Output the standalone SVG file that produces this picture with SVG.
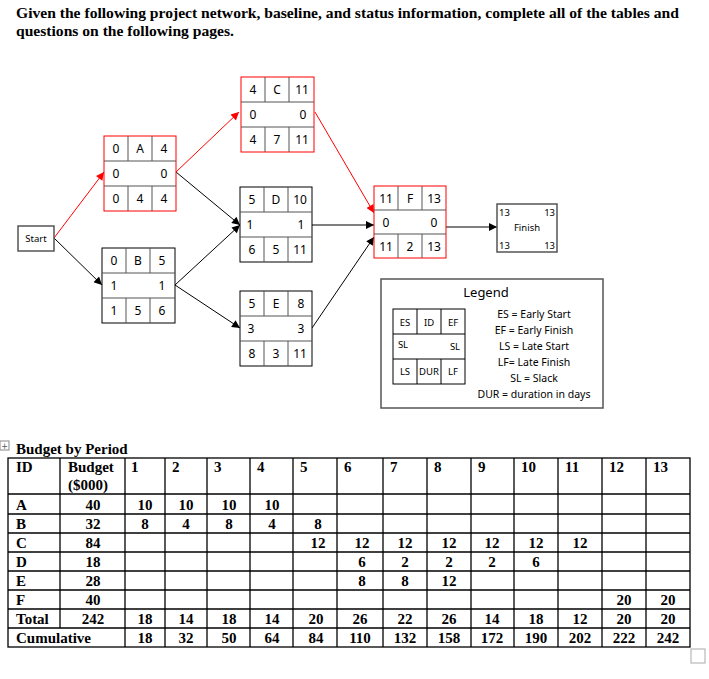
<svg xmlns="http://www.w3.org/2000/svg" width="709" height="679" viewBox="0 0 709 679">
<defs>
<marker id="ab" viewBox="0 0 10 10" refX="10" refY="5" markerWidth="10" markerHeight="8" orient="auto" markerUnits="userSpaceOnUse"><path d="M0,0L10,5L0,10z" fill="#000"/></marker>
<marker id="ar" viewBox="0 0 10 10" refX="10" refY="5" markerWidth="10" markerHeight="8" orient="auto" markerUnits="userSpaceOnUse"><path d="M0,0L10,5L0,10z" fill="#f00"/></marker>
</defs>
<style>
.t{font-family:"Liberation Serif",serif;font-weight:bold;font-size:15.6px}
.n{font-family:"Noto Sans","DejaVu Sans",sans-serif;font-size:12px;text-anchor:middle}
.s{font-family:"Noto Sans","DejaVu Sans",sans-serif;font-size:9.5px}
.l{font-family:"Noto Sans","DejaVu Sans",sans-serif;font-size:10.5px}
.g{fill:#fff;stroke:#000;stroke-width:1}
.r{fill:#fff;stroke:#f00;stroke-width:1}
.ln{stroke:#555;stroke-width:1}
.tb{font-family:"Liberation Serif",serif;font-weight:bold;font-size:15px}
.c{text-anchor:middle}
</style>
<rect width="709" height="679" fill="#fff"/>
<text class="t" x="16" y="18">Given the following project network, baseline, and status information, complete all of the tables and</text>
<text class="t" x="16" y="36">questions on the following pages.</text>

<g id="connectors" fill="none">
<line x1="54" y1="238" x2="104" y2="172" stroke="#f00" marker-end="url(#ar)"/>
<line x1="54" y1="238" x2="102" y2="285" stroke="#000" marker-end="url(#ab)"/>
<line x1="176" y1="172" x2="239" y2="112" stroke="#f00" marker-end="url(#ar)"/>
<line x1="176" y1="172" x2="240" y2="225" stroke="#000" marker-end="url(#ab)"/>
<line x1="175" y1="285" x2="240" y2="225" stroke="#000" marker-end="url(#ab)"/>
<line x1="175" y1="285" x2="240" y2="328" stroke="#000" marker-end="url(#ab)"/>
<line x1="315" y1="112" x2="374" y2="213" stroke="#f00" marker-end="url(#ar)"/>
<line x1="312" y1="225" x2="374" y2="225" stroke="#000" marker-end="url(#ab)"/>
<line x1="312" y1="328" x2="374" y2="237" stroke="#000" marker-end="url(#ab)"/>
<line x1="446" y1="227" x2="497" y2="227" stroke="#000" marker-end="url(#ab)"/>
</g>

<g id="start"><rect x="18" y="226" width="36" height="25" fill="#fff" stroke="#555" stroke-width="1.5"/><text class="s" x="36" y="242" text-anchor="middle">Start</text></g>

<g id="nodeA" transform="translate(104,136)">
<rect class="r" width="72" height="75"/><g class="ln"><line x1="24" y1="0" x2="24" y2="25"/><line x1="48" y1="0" x2="48" y2="25"/><line x1="0" y1="25" x2="72" y2="25"/><line x1="0" y1="50" x2="72" y2="50"/><line x1="24" y1="50" x2="24" y2="75"/><line x1="48" y1="50" x2="48" y2="75"/></g>
<text class="n" x="12" y="17">0</text><text class="n" x="36" y="17">A</text><text class="n" x="60" y="17">4</text><text class="n" x="12" y="42">0</text><text class="n" x="60" y="42">0</text><text class="n" x="12" y="67">0</text><text class="n" x="36" y="67">4</text><text class="n" x="60" y="67">4</text></g>

<g id="nodeB" transform="translate(102,248)">
<rect class="g" width="73" height="75"/><g class="ln" stroke="#000"><line x1="24" y1="0" x2="24" y2="25" stroke="#555"/><line x1="48" y1="0" x2="48" y2="25" stroke="#555"/><line x1="0" y1="25" x2="73" y2="25"/><line x1="0" y1="50" x2="73" y2="50"/><line x1="24" y1="50" x2="24" y2="75" stroke="#555"/><line x1="48" y1="50" x2="48" y2="75" stroke="#555"/></g>
<text class="n" x="12" y="17">0</text><text class="n" x="36" y="17">B</text><text class="n" x="60" y="17">5</text><text class="n" x="12" y="42">1</text><text class="n" x="60" y="42">1</text><text class="n" x="12" y="67">1</text><text class="n" x="36" y="67">5</text><text class="n" x="60" y="67">6</text></g>

<g id="nodeC" transform="translate(241,77)">
<rect class="r" width="73" height="75"/><g class="ln"><line x1="24" y1="0" x2="24" y2="25"/><line x1="48" y1="0" x2="48" y2="25"/><line x1="0" y1="25" x2="73" y2="25"/><line x1="0" y1="50" x2="73" y2="50"/><line x1="24" y1="50" x2="24" y2="75"/><line x1="48" y1="50" x2="48" y2="75"/></g>
<text class="n" x="12" y="17">4</text><text class="n" x="36" y="17">C</text><text class="n" x="61" y="17">11</text><text class="n" x="12" y="42">0</text><text class="n" x="62" y="42">0</text><text class="n" x="12" y="67">4</text><text class="n" x="36" y="67">7</text><text class="n" x="61" y="67">11</text></g>

<g id="nodeD" transform="translate(240,187)">
<rect class="g" width="72" height="75"/><g class="ln"><line x1="24" y1="0" x2="24" y2="25"/><line x1="48" y1="0" x2="48" y2="25"/><line x1="0" y1="25" x2="72" y2="25"/><line x1="0" y1="50" x2="72" y2="50"/><line x1="24" y1="50" x2="24" y2="75"/><line x1="48" y1="50" x2="48" y2="75"/></g>
<text class="n" x="12" y="17">5</text><text class="n" x="36" y="17">D</text><text class="n" x="60" y="17">10</text><text class="n" x="10" y="42">1</text><text class="n" x="61" y="42">1</text><text class="n" x="12" y="67">6</text><text class="n" x="36" y="67">5</text><text class="n" x="60" y="67">11</text></g>

<g id="nodeE" transform="translate(240,291)">
<rect class="g" width="72" height="75"/><g class="ln"><line x1="24" y1="0" x2="24" y2="25"/><line x1="48" y1="0" x2="48" y2="25"/><line x1="0" y1="25" x2="72" y2="25"/><line x1="0" y1="50" x2="72" y2="50"/><line x1="24" y1="50" x2="24" y2="75"/><line x1="48" y1="50" x2="48" y2="75"/></g>
<text class="n" x="12" y="17">5</text><text class="n" x="36" y="17">E</text><text class="n" x="61" y="17">8</text><text class="n" x="11" y="42">3</text><text class="n" x="61" y="42">3</text><text class="n" x="12" y="67">8</text><text class="n" x="36" y="67">3</text><text class="n" x="60" y="67">11</text></g>

<g id="nodeF" transform="translate(374,186)">
<rect class="r" width="72" height="72"/><g class="ln"><line x1="24" y1="0" x2="24" y2="24"/><line x1="48" y1="0" x2="48" y2="24"/><line x1="0" y1="24" x2="72" y2="24"/><line x1="0" y1="48" x2="72" y2="48"/><line x1="24" y1="48" x2="24" y2="72"/><line x1="48" y1="48" x2="48" y2="72"/></g>
<text class="n" x="12" y="17">11</text><text class="n" x="36" y="17">F</text><text class="n" x="60" y="17">13</text><text class="n" x="12" y="41">0</text><text class="n" x="60" y="41">0</text><text class="n" x="12" y="65">11</text><text class="n" x="36" y="65">2</text><text class="n" x="60" y="65">13</text></g>

<g id="finish"><rect x="497" y="204" width="60" height="48" fill="#fff" stroke="#555" stroke-width="1.5"/>
<text class="s" x="499" y="216">13</text><text class="s" x="555" y="216" text-anchor="end">13</text><text class="s" x="527" y="231" text-anchor="middle">Finish</text><text class="s" x="499" y="249">13</text><text class="s" x="555" y="249" text-anchor="end">13</text></g>

<g id="legend"><rect x="381" y="279" width="222" height="129" fill="#fff" stroke="#555" stroke-width="1.5"/>
<text x="486" y="297" font-family="Noto Sans,DejaVu Sans,sans-serif" font-size="13" text-anchor="middle">Legend</text>
<rect x="393" y="309" width="72" height="75" fill="none" stroke="#000"/>
<g stroke="#000"><line x1="417" y1="309" x2="417" y2="334"/><line x1="441" y1="309" x2="441" y2="334"/><line x1="393" y1="334" x2="465" y2="334"/><line x1="393" y1="359" x2="465" y2="359"/><line x1="417" y1="359" x2="417" y2="384"/><line x1="441" y1="359" x2="441" y2="384"/></g>
<g class="s" text-anchor="middle"><text x="405" y="326">ES</text><text x="429" y="326">ID</text><text x="453" y="326">EF</text><text x="403" y="348">SL</text><text x="455" y="350">SL</text><text x="405" y="375">LS</text><text x="429" y="375">DUR</text><text x="453" y="375">LF</text></g>
<g class="l" text-anchor="middle"><text x="534" y="318">ES = Early Start</text><text x="534" y="334">EF = Early Finish</text><text x="534" y="350">LS = Late Start</text><text x="534" y="366">LF= Late Finish</text><text x="534" y="382">SL = Slack</text><text x="534" y="398">DUR = duration in days</text></g></g>

<g id="table">
<rect x="0" y="441" width="9" height="9" fill="#fff" stroke="#888"/>
<text x="4.5" y="449" font-family="DejaVu Sans,sans-serif" font-size="8" text-anchor="middle" fill="#555">+</text>
<text class="tb" x="16" y="454">Budget by Period</text>
<g stroke="#000" stroke-width="1.3" fill="none">
<rect x="8" y="458" width="682" height="189"/>
<line x1="8" y1="494" x2="690" y2="494"/><line x1="8" y1="514" x2="690" y2="514"/><line x1="8" y1="533" x2="690" y2="533"/><line x1="8" y1="552" x2="690" y2="552"/><line x1="8" y1="571" x2="690" y2="571"/><line x1="8" y1="590" x2="690" y2="590"/><line x1="8" y1="609" x2="690" y2="609"/><line x1="8" y1="628" x2="690" y2="628"/>
<line x1="60" y1="458" x2="60" y2="628"/>
<line x1="125" y1="458" x2="125" y2="647"/><line x1="165" y1="458" x2="165" y2="647"/><line x1="207" y1="458" x2="207" y2="647"/><line x1="250" y1="458" x2="250" y2="647"/><line x1="293" y1="458" x2="293" y2="647"/><line x1="337" y1="458" x2="337" y2="647"/><line x1="383" y1="458" x2="383" y2="647"/><line x1="427" y1="458" x2="427" y2="647"/><line x1="471" y1="458" x2="471" y2="647"/><line x1="514" y1="458" x2="514" y2="647"/><line x1="558" y1="458" x2="558" y2="647"/><line x1="602" y1="458" x2="602" y2="647"/><line x1="646" y1="458" x2="646" y2="647"/>
</g>
<g class="tb">
<text x="16" y="472">ID</text><text x="68" y="472">Budget</text><text x="68" y="490">($000)</text>
<text x="131" y="472">1</text><text x="172" y="472">2</text><text x="214" y="472">3</text><text x="257" y="472">4</text><text x="300" y="472">5</text><text x="344" y="472">6</text><text x="390" y="472">7</text><text x="434" y="472">8</text><text x="478" y="472">9</text><text x="521" y="472">10</text><text x="565" y="472">11</text><text x="609" y="472">12</text><text x="653" y="472">13</text>
<text x="16" y="510">A</text><text x="16" y="529">B</text><text x="16" y="548">C</text><text x="16" y="567">D</text><text x="16" y="586">E</text><text x="16" y="605">F</text><text x="16" y="624">Total</text><text x="16" y="643">Cumulative</text>
</g>
<g class="tb c">
<text x="93" y="510">40</text><text x="145" y="510">10</text><text x="186" y="510">10</text><text x="229" y="510">10</text><text x="272" y="510">10</text>
<text x="93" y="529">32</text><text x="145" y="529">8</text><text x="186" y="529">4</text><text x="229" y="529">8</text><text x="272" y="529">4</text><text x="318" y="529">8</text>
<text x="93" y="548">84</text><text x="318" y="548">12</text><text x="362" y="548">12</text><text x="405" y="548">12</text><text x="449" y="548">12</text><text x="492" y="548">12</text><text x="536" y="548">12</text><text x="580" y="548">12</text>
<text x="93" y="567">18</text><text x="362" y="567">6</text><text x="405" y="567">2</text><text x="449" y="567">2</text><text x="492" y="567">2</text><text x="536" y="567">6</text>
<text x="93" y="586">28</text><text x="362" y="586">8</text><text x="405" y="586">8</text><text x="449" y="586">12</text>
<text x="93" y="605">40</text><text x="624" y="605">20</text><text x="668" y="605">20</text>
<text x="93" y="624">242</text><text x="145" y="624">18</text><text x="186" y="624">14</text><text x="229" y="624">18</text><text x="272" y="624">14</text><text x="316" y="624">20</text><text x="360" y="624">26</text><text x="405" y="624">22</text><text x="449" y="624">26</text><text x="492" y="624">14</text><text x="536" y="624">18</text><text x="580" y="624">12</text><text x="624" y="624">20</text><text x="668" y="624">20</text>
<text x="145" y="643">18</text><text x="186" y="643">32</text><text x="229" y="643">50</text><text x="272" y="643">64</text><text x="316" y="643">84</text><text x="360" y="643">110</text><text x="405" y="643">132</text><text x="449" y="643">158</text><text x="492" y="643">172</text><text x="536" y="643">190</text><text x="580" y="643">202</text><text x="624" y="643">222</text><text x="668" y="643">242</text>
</g>
<rect x="691" y="649" width="14" height="14" fill="#fff" stroke="#aaa"/>
</g>
</svg>
